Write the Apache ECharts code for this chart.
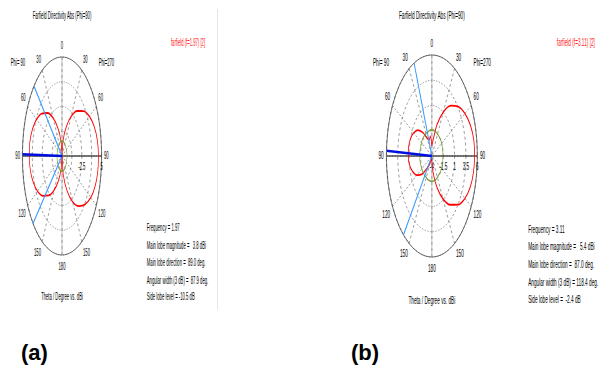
<!DOCTYPE html>
<html>
<head>
<meta charset="utf-8">
<script src="https://cdn.jsdelivr.net/npm/echarts@6/dist/echarts.min.js"></script>
<style>
  html, body { margin: 0; padding: 0; width: 605px; height: 372px; overflow: hidden; background: #fff; }
  .panel { position: absolute; top: 0; height: 372px; transform-origin: 0 0; }
  #pa { left: 0; width: 545px; transform: scaleX(0.4); }
  #pb { left: 300px; width: 700px; transform: scaleX(0.45); }
  .cap { position: absolute; top: 340px; font: bold 22px "Liberation Sans", Arial, sans-serif; color: #000; }
</style>
</head>
<body>
<div id="pa" class="panel"></div>
<div id="pb" class="panel"></div>
<div class="cap" style="left:21px">(a)</div>
<div class="cap" style="left:351px">(b)</div>
<script>
// Theta samples (degrees) shared by every cut
const thetaDeg = [0, 10, 20, 30, 40, 50, 60, 70, 80, 90, 100, 110, 120, 130, 140, 150, 160, 170, 180];

// Angle labels going clockwise from the top: Phi=270 half, then Phi=90 half
const angleTickLabels = ['0', '30', '60', '90', '120', '150', '180', '150', '120', '90', '60', '30'];

// ---- Panel (a): f = 1.97 ----
const dbMinA = -10, dbMaxA = 5;
const ringLabelsA = ['', '', '-2.5', '', '5'];
const redPhi270A = [-10, -7.6, -5.3, -3.1, -1.1, 0.6, 2.0, 3.0, 3.6, 3.8, 3.75, 3.35, 2.6, 1.4, -0.1, -2.0, -4.4, -7.0, -10];
const redPhi90A  = [-10, -7.7, -5.5, -3.4, -1.5, 0.0, 1.1, 1.9, 2.35, 2.4, 2.2, 1.6, 0.7, -0.6, -2.2, -4.0, -6.0, -8.0, -10];
const greenPhi270A = [-7.7, -7.7, -7.8, -7.9, -8.0, -8.05, -8.1, -8.1, -8.1, -8.1, -8.1, -8.1, -8.05, -8.0, -7.9, -7.8, -7.75, -7.7, -7.7];
const greenPhi90A  = [-7.7, -7.7, -7.8, -7.9, -8.0, -8.05, -8.1, -8.12, -8.12, -8.12, -8.1, -8.1, -8.05, -8.0, -7.9, -7.8, -7.75, -7.7, -7.7];
const mainDirA = 89.0;
const beamEdgesA = [45.05, 132.95];
const legendA = 'farfield (f=1.97) [2]';
const infoA = [
  'Frequency = 1.97',
  'Main lobe magnitude =   3.8 dBi',
  'Main lobe direction =  89.0 deg.',
  'Angular width (3 dB) =  87.9 deg.',
  'Side lobe level = -10.5 dB'
];

// ---- Panel (b): f = 3.11 ----
const dbMinB = -4, dbMaxB = 6;
const ringLabelsB = ['-4', '-1.5', '1', '3.5', '6'];
const redPhi270B = [-3.0, -2.4, -0.7, 1.0, 2.5, 3.6, 4.4, 5.0, 5.35, 5.4, 5.3, 5.0, 4.4, 3.5, 2.3, 0.9, -0.7, -2.3, -3.5];
const redPhi90B  = [-3.0, -2.0, -2.3, -2.0, -1.0, 0.0, 0.6, 1.0, 1.2, 1.2, 1.0, 0.5, -0.2, -1.2, -2.5, -3.2, -3.6, -3.8, -3.5];
const greenPhi270B = [-1.4, -1.4, -1.45, -1.5, -1.5, -1.5, -1.5, -1.55, -1.55, -1.55, -1.55, -1.5, -1.55, -1.55, -1.6, -1.6, -1.5, -1.5, -1.5];
const greenPhi90B  = [-1.4, -1.4, -1.45, -1.4, -1.4, -1.35, -1.35, -1.35, -1.35, -1.35, -1.35, -1.4, -1.45, -1.5, -1.5, -1.55, -1.5, -1.5, -1.5];
const mainDirB = 87.0;
const beamEdgesB = [23.0, 141.4];
const legendB = 'farfield (f=3.11) [2]';
const infoB = [
  'Frequency = 3.11',
  'Main lobe magnitude =   5.4 dBi',
  'Main lobe direction =  87.0 deg.',
  'Angular width (3 dB) = 118.4 deg.',
  'Side lobe level =  -2.4 dB'
];

const titleText = 'Farfield Directivity Abs (Phi=90)';
const footerText = 'Theta / Degree vs. dBi';
const FONT = '"Liberation Sans", Arial, sans-serif';
const TEXT_SIZE = 10.5;

function panelOption(p) {
  const span = p.dbMax - p.dbMin;
  const step = span / 4;
  // Radial axis runs from the lowest dB value (centre) to the highest (rim)
  const toR = v => v - p.dbMin;
  // Closed cut: Phi=270 half clockwise from the top, then the Phi=90 half back up
  const cut = (right, left) => {
    const pts = thetaDeg.map((t, i) => [toR(right[i]), t]);
    for (let i = thetaDeg.length - 1; i >= 0; i--) pts.push([toR(left[i]), 360 - thetaDeg[i]]);
    return pts;
  };
  const ray = ang => [[0, ang], [span, ang]];
  const base = { type: 'line', coordinateSystem: 'polar', polarIndex: 0, symbol: 'none', silent: true };
  const txt = (x, y, s, extra) => ({
    type: 'text', x: x, y: y, silent: true,
    style: Object.assign({ text: s, fill: '#000', fontSize: TEXT_SIZE, fontFamily: FONT, align: 'center', verticalAlign: 'middle' }, extra || {})
  });

  const graphic = [
    txt(p.cx, 16, titleText),
    txt(p.legendX, 43, p.legend, { fill: '#ff2020' }),
    txt(p.phi90X, 63, 'Phi= 90'),
    txt(p.phi270X, 63, 'Phi=270'),
    txt(p.cx, p.footerY, footerText)
  ];
  p.info.forEach((s, i) => graphic.push(txt(p.infoX, p.infoY[i], s, { align: 'left' })));
  if (p.sepX) {
    graphic.push({ type: 'line', silent: true, shape: { x1: p.sepX, y1: 9, x2: p.sepX, y2: 310 },
                   style: { stroke: '#e4e4e4', lineWidth: 2.5 } });
  }

  return {
    animation: false,
    polar: [
      { center: [p.cx, p.cy], radius: p.r },
      { center: [p.cx, p.cy], radius: p.r }
    ],
    angleAxis: [
      {
        polarIndex: 0, type: 'value', min: 0, max: 360, interval: 30,
        startAngle: 90, clockwise: true,
        axisLine: { lineStyle: { color: '#3a3a3a', width: 1 } },
        axisTick: { show: false },
        axisLabel: { margin: 6, fontSize: TEXT_SIZE, color: '#000', fontFamily: FONT,
                     formatter: v => angleTickLabels[Math.round(v / 30) % 12] },
        splitLine: { lineStyle: { color: '#666', width: 0.9, type: [3, 3] } }
      },
      { polarIndex: 1, type: 'value', min: 0, max: 360, startAngle: 0, show: false }
    ],
    radiusAxis: [
      {
        polarIndex: 0, type: 'value', min: 0, max: span, interval: step,
        axisLine: { show: false }, axisTick: { show: false }, axisLabel: { show: false },
        splitLine: { lineStyle: { color: '#666', width: 0.9, type: [3, 3] } }
      },
      {
        polarIndex: 1, type: 'value', min: 0, max: span, interval: step,
        axisLine: { show: false }, axisTick: { show: false }, splitLine: { show: false },
        axisLabel: { margin: -5, verticalAlign: 'top', fontSize: TEXT_SIZE, color: '#000', fontFamily: FONT,
                     formatter: v => p.ringLabels[Math.round(v / step)] }
      }
    ],
    series: [
      Object.assign({}, base, { data: [[span, 0], [0, 0], [span, 180]], lineStyle: { color: '#a8a8a8', width: 1 } }),
      Object.assign({}, base, { data: [[span, 90], [0, 90], [span, 270]], lineStyle: { color: '#000', width: 1.2 } }),
      Object.assign({}, base, { data: cut(p.red270, p.red90), smooth: 0.3, lineStyle: { color: '#ff0000', width: 1.8 } }),
      Object.assign({}, base, { data: cut(p.green270, p.green90), smooth: 0.3, lineStyle: { color: '#6f9a2a', width: 1.4 } }),
      Object.assign({}, base, { data: ray(360 - p.beam[0]), lineStyle: { color: '#3399ff', width: 2 } }),
      Object.assign({}, base, { data: ray(360 - p.beam[1]), lineStyle: { color: '#3399ff', width: 2 } }),
      Object.assign({}, base, { data: ray(360 - p.mainDir), lineStyle: { color: '#0010e0', width: 2.6 } })
    ],
    graphic: graphic
  };
}

const chartA = echarts.init(document.getElementById('pa'), null, { renderer: 'svg' });
chartA.setOption(panelOption({
  dbMin: dbMinA, dbMax: dbMaxA, ringLabels: ringLabelsA,
  red270: redPhi270A, red90: redPhi90A, green270: greenPhi270A, green90: greenPhi90A,
  mainDir: mainDirA, beam: beamEdgesA, legend: legendA, info: infoA,
  cx: 155, cy: 156, r: 99,
  legendX: 470, phi90X: 45, phi270X: 266,
  infoX: 367, infoY: [228, 246, 263, 281, 297], footerY: 297, sepX: 544
}));

const chartB = echarts.init(document.getElementById('pb'), null, { renderer: 'svg' });
chartB.setOption(panelOption({
  dbMin: dbMinB, dbMax: dbMaxB, ringLabels: ringLabelsB,
  red270: redPhi270B, red90: redPhi90B, green270: greenPhi270B, green90: greenPhi90B,
  mainDir: mainDirB, beam: beamEdgesB, legend: legendB, info: infoB,
  cx: 293, cy: 156, r: 101,
  legendX: 613, phi90X: 180, phi270X: 405,
  infoX: 507, infoY: [230, 247, 265, 283, 300], footerY: 301, sepX: 0
}));
</script>
</body>
</html>
